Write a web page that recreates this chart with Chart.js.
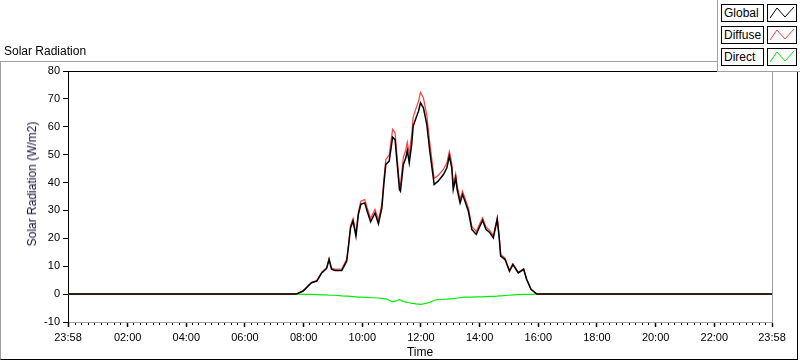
<!DOCTYPE html>
<html>
<head>
<meta charset="utf-8">
<title>Solar Radiation</title>
<script src="https://cdn.jsdelivr.net/npm/chart.js@4"></script>
<style>
  html, body { margin: 0; padding: 0; background: #fff; }
  body { width: 800px; height: 361px; position: relative; overflow: hidden;
         font-family: "Liberation Sans", Arial, sans-serif; color: #000; }
  #panel { position: absolute; left: 0; top: 61px; width: 798px; height: 299px; box-sizing: border-box;
           border-top: 1px solid #a0a0a0; border-left: 1px solid #a0a0a0;
           border-right: 1px solid #000; border-bottom: 1px solid #000; }
  #chartSolar { position: absolute; left: 0; top: 0; }
  #tituloGrafico { position: absolute; left: 4px; top: 44px; font-size: 12px; }
  #tituloY { position: absolute; left: 32px; top: 184px; font-size: 12px; white-space: nowrap; color: #1a1030;
             transform: translate(-50%, -50%) rotate(-90deg); }
  #leyenda { position: absolute; left: 717px; top: 0; width: 83px; height: 72px; box-sizing: border-box;
             background: #fff; border-left: 1px solid #a0a0a0; border-bottom: 1px solid #a0a0a0; }
  .ley-texto { position: absolute; left: 721px; width: 43px; height: 18px; box-sizing: border-box;
               border: 1px solid #000; font-size: 12px; line-height: 16px; padding-left: 2px; background: #fff; }
  .ley-muestra { position: absolute; left: 767px; width: 30px; height: 18px; box-sizing: border-box;
                 border: 1px solid #000; background: #fff; }
  .ley-muestra svg { display: block; }
</style>
</head>
<body>
<div id="panel"></div>
<canvas id="chartSolar" width="800" height="361"></canvas>
<div id="tituloGrafico">Solar Radiation</div>
<div id="tituloY">Solar Radiation (W/m2)</div>
<div id="leyenda"></div>

<script>
// minutos desde medianoche (-2 = 23:58 del día anterior)
const tiempos = [
  -2, 465, 479, 496, 507, 517, 527, 532, 537, 544, 558, 568, 571, 576, 581, 587, 592, 597, 605, 610,
  617, 626, 633, 640, 644, 648, 655, 662, 667, 672, 676, 678, 684, 689, 692, 696, 701, 704, 710, 715,
  719, 725, 732, 738, 747, 755, 766, 773, 778, 783, 786, 791, 794, 800, 805, 810, 817, 824, 833, 839,
  846, 853, 861, 868, 876, 880, 883, 892, 901, 908, 919, 930, 936, 945, 957, 1438
];

const valoresGlobal = [
  0, 0, 1.1, 4.1, 4.7, 7.6, 9.2, 12.4, 8.9, 8.5, 8.5, 11.8, 16, 23.8, 26.2, 20.8, 28.6, 32.2, 32.7, 29.7,
  25.9, 29.1, 25.2, 30.9, 39.3, 46.5, 47.7, 56.3, 55.4, 45.3, 37.5, 36.9, 46.5, 48.9, 51.5, 47.1, 53.7, 60.2, 63.2, 65.6,
  68.6, 66.8, 60.8, 51.3, 39.3, 40.5, 42.9, 45.3, 49.5, 45.3, 37.5, 41.7, 37.5, 32.7, 35.7, 33.3, 29.7, 23.2, 21.4, 23.8,
  26.4, 23.2, 22.0, 20.2, 26.8, 20.2, 13.6, 12.4, 8.2, 10.6, 7.6, 8.9, 5.3, 1.7, 0, 0
];

const valoresDifusa = [
  0, 0, 1.2, 4.2, 4.9, 7.9, 9.5, 12.8, 9.3, 8.9, 9.1, 12.5, 16.7, 24.6, 27.1, 21.8, 29.7, 33.3, 33.9, 30.9,
  27.2, 30.4, 26.6, 32.4, 40.9, 48.2, 49.9, 59.1, 57.9, 47.5, 39.4, 39.0, 49.1, 51.8, 54.5, 50.2, 57.0, 63.5, 66.7, 69.2,
  72.3, 70.3, 64.0, 54.3, 41.5, 42.5, 44.8, 47.1, 51.2, 47.0, 39.1, 43.2, 38.9, 34.0, 36.9, 34.4, 30.8, 24.3, 22.4, 24.8,
  27.4, 24.1, 22.8, 21.0, 27.5, 20.8, 14.2, 12.9, 8.6, 10.9, 7.8, 9.0, 5.4, 1.8, 0, 0
];

const valoresDirecta = [
  0, 0, -0.1, -0.1, -0.2, -0.3, -0.3, -0.4, -0.4, -0.4, -0.6, -0.7, -0.7, -0.8, -0.9, -1.0, -1.1, -1.1, -1.2, -1.2,
  -1.3, -1.3, -1.4, -1.5, -1.6, -1.7, -2.2, -2.8, -2.5, -2.2, -1.9, -2.1, -2.6, -2.9, -3.0, -3.1, -3.3, -3.3, -3.5, -3.6,
  -3.7, -3.5, -3.2, -3.0, -2.2, -2.0, -1.9, -1.8, -1.7, -1.7, -1.6, -1.5, -1.4, -1.3, -1.2, -1.1, -1.1, -1.1, -1.0, -1.0,
  -1.0, -0.9, -0.8, -0.8, -0.7, -0.6, -0.6, -0.5, -0.4, -0.3, -0.2, -0.1, -0.1, -0.1, 0, 0
];

const ticksX = [-2, 120, 240, 360, 480, 600, 720, 840, 960, 1080, 1200, 1320, 1438];
const etiquetasX = ['23:58', '02:00', '04:00', '06:00', '08:00', '10:00', '12:00', '14:00', '16:00', '18:00', '20:00', '22:00', '23:58'];
const ticksY = [-10, 0, 10, 20, 30, 40, 50, 60, 70, 80];

const series = [
  { nombre: 'Global',  valores: valoresGlobal,  color: '#000000', ancho: 1.5 },
  { nombre: 'Diffuse', valores: valoresDifusa,  color: '#ff3b3b', ancho: 1.2 },
  { nombre: 'Direct',  valores: valoresDirecta, color: '#00ee00', ancho: 1.2 }
];

Chart.defaults.font.family = '"Liberation Sans", Arial, sans-serif';
Chart.defaults.font.size = 11;
Chart.defaults.color = '#000';

// borde superior/derecho del área y marcas menores del eje X
const marcoPlugin = {
  id: 'marco',
  afterDraw(chart) {
    const { ctx, chartArea: a, scales } = chart;
    ctx.save();
    ctx.lineWidth = 1;
    ctx.strokeStyle = '#000';
    ctx.beginPath();
    ctx.moveTo(a.left, Math.round(a.top) + 0.5);
    ctx.lineTo(a.right, Math.round(a.top) + 0.5);
    ctx.stroke();
    ctx.strokeStyle = '#a0a0a0';
    ctx.beginPath();
    ctx.moveTo(Math.round(a.right) + 0.5, a.top);
    ctx.lineTo(Math.round(a.right) + 0.5, a.bottom);
    ctx.stroke();

    ctx.strokeStyle = '#000';
    const paso = 1440 / 108;
    for (let k = 1; k < 108; k++) {
      if (k % 9 === 0) continue;
      const px = Math.round(scales.x.getPixelForValue(-2 + k * paso)) + 0.5;
      ctx.beginPath();
      ctx.moveTo(px, a.bottom + 1);
      ctx.lineTo(px, a.bottom + 3);
      ctx.stroke();
    }
    ctx.restore();
  }
};

const ctx = document.getElementById('chartSolar').getContext('2d');
const chartSolar = new Chart(ctx, {
  type: 'line',
  data: {
    datasets: series.map(s => ({
      label: s.nombre,
      data: tiempos.map((t, i) => ({ x: t, y: s.valores[i] })),
      borderColor: s.color,
      borderWidth: s.ancho,
      pointRadius: 0,
      tension: 0,
      fill: false
    }))
  },
  options: {
    responsive: false,
    animation: false,
    layout: { padding: { top: 71, right: 28, left: 0, bottom: 0 } },
    plugins: { legend: { display: false }, tooltip: { enabled: false } },
    scales: {
      x: {
        type: 'linear',
        min: -2,
        max: 1438,
        afterBuildTicks: scale => { scale.ticks = ticksX.map(v => ({ value: v })); },
        afterFit: scale => { scale.height = 39; },
        ticks: {
          autoSkip: false,
          maxRotation: 0,
          padding: 4,
          callback: (v, i) => etiquetasX[i]
        },
        grid: { drawOnChartArea: false, drawTicks: true, tickLength: 5, tickColor: '#000', tickWidth: 1.5 },
        border: { color: '#a0a0a0', width: 1 },
        title: { display: true, text: 'Time', font: { size: 12 }, padding: { top: 0, bottom: 1 } }
      },
      y: {
        min: -10,
        max: 80,
        afterBuildTicks: scale => { scale.ticks = ticksY.map(v => ({ value: v })); },
        afterFit: scale => { scale.width = 68; },
        ticks: { padding: 3 },
        grid: { drawOnChartArea: false, drawTicks: true, tickLength: 5, tickColor: '#000' },
        border: { color: '#000', width: 1 }
      }
    }
  },
  plugins: [marcoPlugin]
});

// ---- Leyenda ----
function crearLeyenda() {
  const tops = [4, 26, 48];
  series.forEach((s, i) => {
    const texto = document.createElement('div');
    texto.className = 'ley-texto';
    texto.style.top = tops[i] + 'px';
    texto.textContent = s.nombre;
    document.body.appendChild(texto);

    const muestra = document.createElement('div');
    muestra.className = 'ley-muestra';
    muestra.style.top = tops[i] + 'px';
    muestra.innerHTML = '<svg width="28" height="16"><polyline points="2,13 9,3 17,12 26,2" fill="none" stroke="' +
      s.color + '" stroke-width="1"/></svg>';
    document.body.appendChild(muestra);
  });
}
crearLeyenda();
</script>
</body>
</html>
